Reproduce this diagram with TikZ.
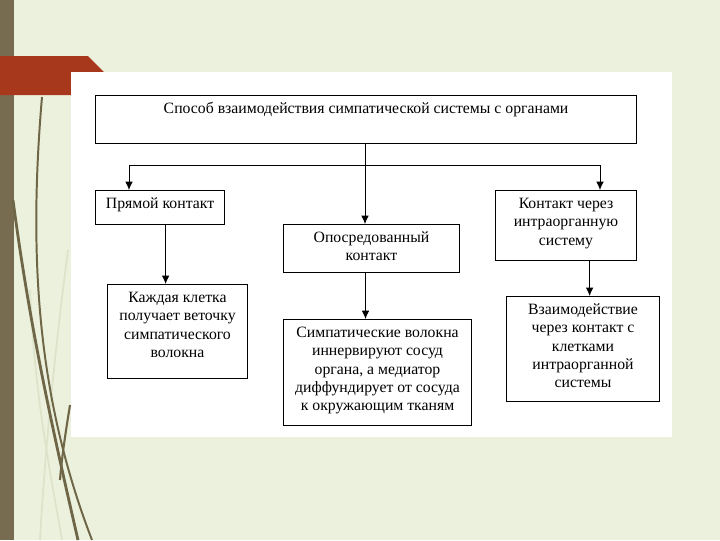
\documentclass[tikz,border=0pt]{standalone}
\usepackage{fontspec}
\setmainfont{Liberation Serif}
\usetikzlibrary{arrows.meta}

\definecolor{pagebg}{HTML}{ECF1DD}
\definecolor{sidebar}{HTML}{786C50}
\definecolor{tabred}{HTML}{A8381B}
\definecolor{stem}{HTML}{6F6648}
\definecolor{faint}{HTML}{DCE3C8}

\newcommand{\boxtext}[3]{\begin{minipage}[t][#2][t]{#1}\centering\rule{0pt}{13pt}#3\end{minipage}}

\tikzset{
  box/.style={draw, line width=0.7pt, inner sep=0pt, anchor=north west},
  arr/.style={line width=0.7pt, -{Latex[length=6pt,width=5.5pt]}},
  link/.style={line width=0.7pt}
}

\begin{document}
\begin{tikzpicture}[x=0.025cm, y=-0.025cm, font=\fontsize{11.2}{12.9}\selectfont]
            \useasboundingbox (0,0) rectangle (720,540);
            % slide background
            \fill[pagebg] (0,0) rectangle (720,540);
            \fill[sidebar] (0,0) rectangle (14,540);
            \draw[faint, line width=1.2pt] (30,290) .. controls (35,400) and (50,470) .. (62,540);
            \draw[faint, line width=1.2pt] (68,250) .. controls (55,350) and (45,450) .. (40,540);
            \draw[stem, line width=2pt] (13,200) .. controls (30,330) and (55,440) .. (78,540);
            \draw[stem, line width=1.4pt] (42,97) .. controls (28,260) and (38,400) .. (92,540);
            \draw[stem, line width=1.5pt] (70,405) .. controls (66,430) and (62,455) .. (60,480);
            \fill[tabred] (0,56) -- (88,56) -- (104,72) -- (71,72) -- (71,95) -- (0,95) -- cycle;
            \fill[white] (71,72) rectangle (672,437);

            \node[box] (top) at (95,95) {\boxtext{13.525cm}{1.2cm}{Способ взаимодействия симпатической системы с органами}};

            \node[box] (direct) at (95,190) {\boxtext{3.225cm}{0.85cm}{Прямой контакт}};
            \node[box] (mediated) at (283,224) {\boxtext{4.4cm}{1.2cm}{Опосредованный\\контакт}};
            \node[box] (intra) at (495,190) {\boxtext{3.525cm}{1.75cm}{Контакт через\\интраорганную\\систему}};

            \node[box] (each) at (107,284) {\boxtext{3.5cm}{2.35cm}{Каждая клетка\\получает веточку\\симпатического\\волокна}};
            \node[box] (fibers) at (283,319) {\boxtext{4.7cm}{2.65cm}{Симпатические волокна\\иннервируют сосуд\\органа, а медиатор\\диффундирует от сосуда\\к окружающим тканям}};
            \node[box] (inter) at (506,296) {\boxtext{3.825cm}{2.625cm}{Взаимодействие\\через контакт с\\клетками\\интраорганной\\системы}};

            \coordinate (split) at (365,165);
            \coordinate (jl) at (129,165);
            \coordinate (jr) at (600,165);

            \draw[link] (top.south -| split) -- (split);
            \draw[link] (jl) -- (jr);
            \draw[arr] (jl) -- (jl |- direct.north);
            \draw[arr] (split) -- (split |- mediated.north);
            \draw[arr] (jr) -- (jr |- intra.north);

            \draw[arr] ([xshift=0.14cm]direct.south) -- ([xshift=0.14cm]direct.south |- each.north);
            \draw[arr] ([xshift=-0.15cm]mediated.south) -- ([xshift=-0.15cm]mediated.south |- fibers.north);
            \draw[arr] ([xshift=0.59cm]intra.south) -- ([xshift=0.59cm]intra.south |- inter.north);
\end{tikzpicture}
\end{document}
